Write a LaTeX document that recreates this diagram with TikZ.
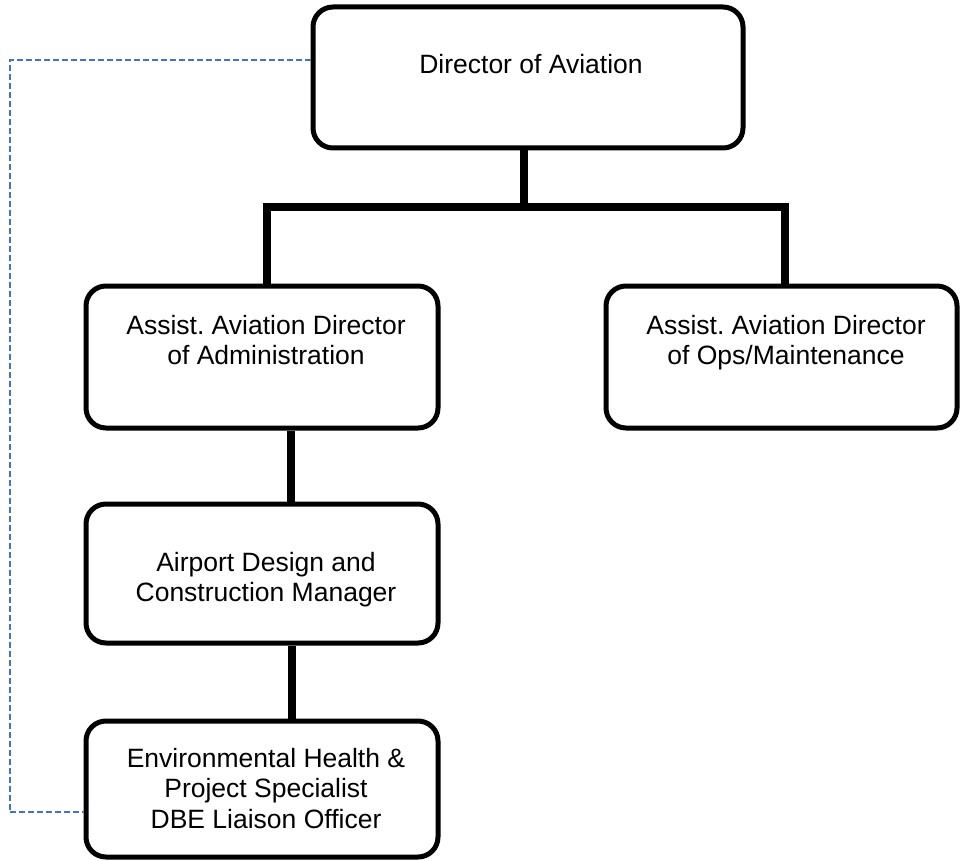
\documentclass[tikz,border=0pt]{standalone}
\usepackage{fontspec}
\setmainfont{Liberation Sans}
\definecolor{dashblue}{RGB}{68,114,196}
\frenchspacing
\begin{document}
\begin{tikzpicture}[x=1pt,y=-1pt,
  box/.style={draw=black,line width=5pt,rounded corners=20pt,inner sep=0pt},
  lbl/.style={inner sep=0pt,align=center,font=\fontsize{26.5}{30.5}\selectfont},
  conn/.style={draw=black,line width=7.5pt,line join=miter},
  dashline/.style={draw=dashblue,line width=2pt,dash pattern=on 6pt off 3pt}]
\useasboundingbox (0,0) rectangle (960,861);
% boxes
\node[box,minimum width=430pt,minimum height=141pt] (dir) at (528,77.5) {};
\node[box,minimum width=352pt,minimum height=142pt] (adm) at (262,357) {};
\node[box,minimum width=351pt,minimum height=142pt] (ops) at (781.5,357) {};
\node[box,minimum width=352pt,minimum height=139pt] (air) at (262,573.5) {};
\node[box,minimum width=352pt,minimum height=136pt] (env) at (262,789) {};
% texts
\node[lbl,anchor=base] (dirT) at (531,74) {Director of Aviation};
\node[lbl,anchor=north] (admT) at (266,315) {Assist. Aviation Director\\of Administration};
\node[lbl,anchor=north] (opsT) at (786,315) {Assist. Aviation Director\\of Ops/Maintenance};
\node[lbl,anchor=north] (airT) at (266,552) {Airport Design and\\Construction Manager};
\node[lbl,anchor=north] (envT) at (266,748) {Environmental Health \&\\Project Specialist\\DBE Liaison Officer};
% connectors
\coordinate (bus) at (524,207);
\draw[conn] (dir.south -| bus) -- (bus);
\draw[conn] ([xshift=5pt]adm.north) |- (bus) -| ([xshift=3.5pt]ops.north);
\draw[conn] ([xshift=29pt]adm.south) -- ([xshift=29pt]air.north);
\draw[conn] ([xshift=30pt]air.south) -- ([xshift=30pt]env.north);
% dashed link
\coordinate (lft) at (9.5,400);
\draw[dashline] ([yshift=17pt]dir.west) -| (lft) |- ([yshift=-23pt]env.west);
\end{tikzpicture}
\end{document}
